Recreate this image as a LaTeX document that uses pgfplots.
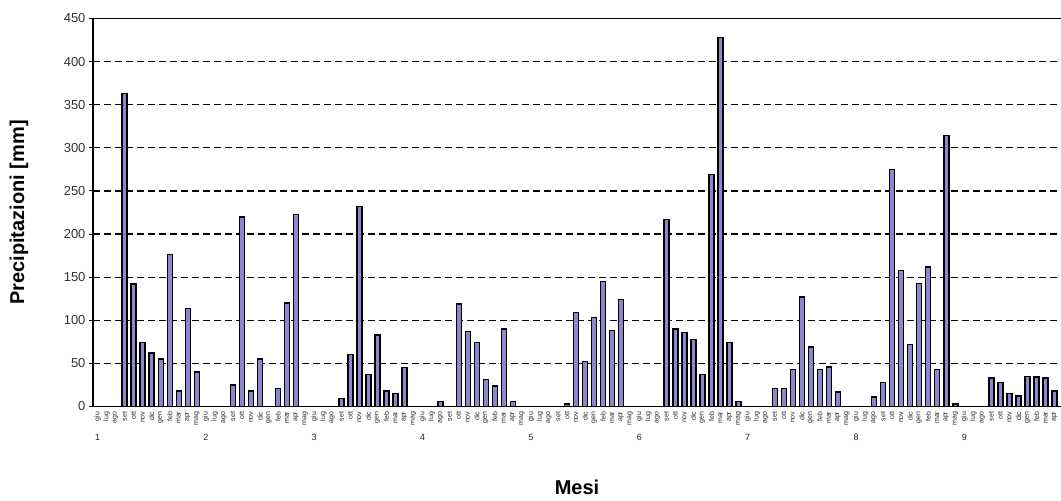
\documentclass[border=0pt]{standalone}
\usepackage{pgfplots}
\usepackage{pgfplotstable}
\usepackage{fontspec}
\setmainfont{Liberation Sans}
\pgfplotsset{compat=1.18}
\definecolor{barfill}{RGB}{140,135,205}
\pgfplotstableread{
idx val
0 0
1 0
2 0
3 363
4 142
5 74
6 62
7 55
8 176
9 18
10 114
11 40
12 0
13 0
14 0
15 25
16 220
17 18
18 55
19 0
20 21
21 120
22 223
23 0
24 0
25 0
26 0
27 9
28 60
29 232
30 37
31 83
32 18
33 15
34 45
35 0
36 0
37 0
38 6
39 0
40 119
41 87
42 74
43 31
44 24
45 90
46 6
47 0
48 0
49 0
50 0
51 0
52 3
53 109
54 52
55 103
56 145
57 88
58 124
59 0
60 0
61 0
62 0
63 217
64 90
65 86
66 78
67 37
68 269
69 428
70 74
71 6
72 0
73 0
74 0
75 21
76 21
77 43
78 127
79 69
80 43
81 46
82 17
83 0
84 0
85 0
86 11
87 28
88 275
89 158
90 72
91 143
92 162
93 43
94 314
95 3
96 0
97 0
98 0
99 33
100 28
101 15
102 12
103 35
104 34
105 33
106 18
}\prec
\begin{document}
\begin{tikzpicture}
\useasboundingbox (0,0) rectangle (1061pt,501pt);
\begin{axis}[
  at={(93pt,94.5pt)}, anchor=south west,
  scale only axis, width=968pt, height=388pt,
  xmin=-0.5, xmax=106.7, ymin=0, ymax=450,
  axis lines=left, axis line style={-, line width=1.5pt},
  ytick={0,50,...,400},
  extra y ticks={450},
  extra y tick style={grid=major, major grid style={solid, black, line width=1.5pt}},
  ymajorgrids,
  major grid style={black, dash pattern=on 7pt off 4pt, line width=1.3pt},
  tick align=outside, major tick length=4pt,
  ytick style={black, line width=1pt},
  xtick=data,
  major x tick style={draw=none},
  xticklabels={giu,lug,ago,set,ott,nov,dic,gen,feb,mar,apr,mag,giu,lug,ago,set,ott,nov,dic,gen,feb,mar,apr,mag,giu,lug,ago,set,ott,nov,dic,gen,feb,mar,apr,mag,giu,lug,ago,set,ott,nov,dic,gen,feb,mar,apr,mag,giu,lug,ago,set,ott,nov,dic,gen,feb,mar,apr,mag,giu,lug,ago,set,ott,nov,dic,gen,feb,mar,apr,mag,giu,lug,ago,set,ott,nov,dic,gen,feb,mar,apr,mag,giu,lug,ago,set,ott,nov,dic,gen,feb,mar,apr,mag,giu,lug,ago,set,ott,nov,dic,gen,feb,mar,apr},
  xticklabel style={rotate=90, anchor=east, font=\fontsize{7}{7}\selectfont, inner sep=1pt, color=black!85},
  yticklabel style={font=\fontsize{13}{13}\selectfont, color=black!80},
  /pgf/number format/assume math mode=true,
  ylabel={Precipitazioni [mm]},
  xlabel={Mesi},
  every axis y label/.style={at={(axis description cs:0,0.5)}, xshift=-74pt, rotate=90, anchor=center, font=\bfseries\fontsize{20}{20}\selectfont},
  every axis x label/.style={at={(axis description cs:0.5,0)}, yshift=-81pt, anchor=center, font=\bfseries\fontsize{20}{20}\selectfont},
]
\addplot[ybar, bar width=5pt, bar shift=0pt, fill=barfill, draw=black, line width=1.4pt] table[x=idx, y=val] {\prec};
\end{axis}
\begin{axis}[
  at={(93pt,94.5pt)}, anchor=south west,
  scale only axis, width=968pt, height=388pt,
  xmin=-0.5, xmax=106.7, ymin=0, ymax=450,
  axis x line=bottom, axis y line=none, axis line style={draw=none},
  ytick=\empty,
  xtick={0,12,24,36,48,60,72,84,96},
  xticklabels={1,2,3,4,5,6,7,8,9},
  major x tick style={draw=none},
  xticklabel style={anchor=north, yshift=-22pt, font=\fontsize{9}{9}\selectfont, color=black!85},
]
\end{axis}
\end{tikzpicture}
\end{document}
